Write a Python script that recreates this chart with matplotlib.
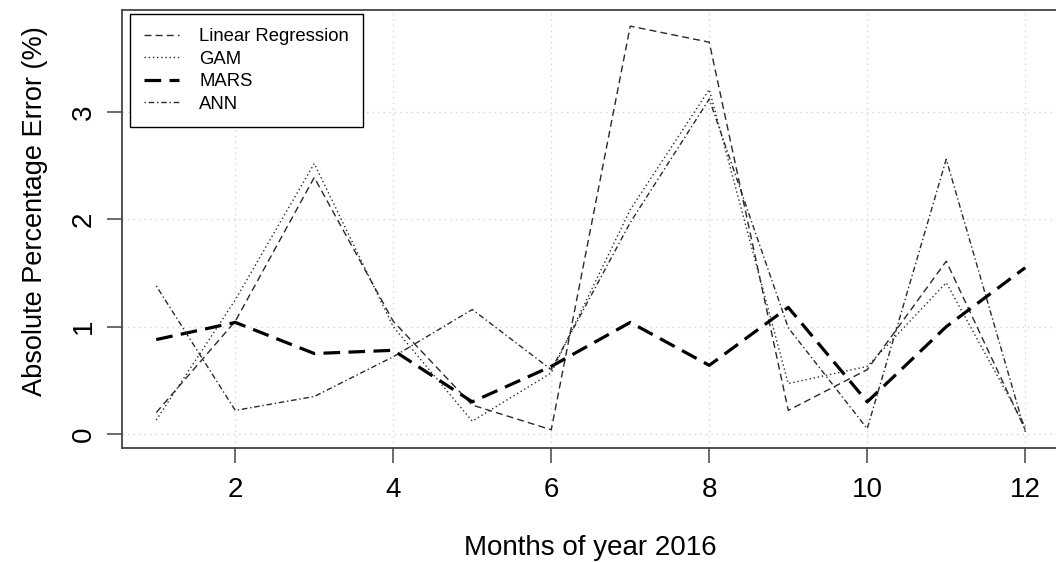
import matplotlib
matplotlib.use("Agg")
import matplotlib.pyplot as plt

# Monthly absolute percentage error (%) per model, 2016
months = [1, 2, 3, 4, 5, 6, 7, 8, 9, 10, 11, 12]
linear_reg = [0.20, 1.05, 2.39, 1.05, 0.27, 0.04, 3.80, 3.65, 0.22, 0.60, 1.61, 0.04]
gam = [0.13, 1.25, 2.52, 1.00, 0.12, 0.57, 2.09, 3.21, 0.47, 0.63, 1.41, 0.07]
mars = [0.88, 1.04, 0.75, 0.78, 0.30, 0.63, 1.04, 0.64, 1.18, 0.30, 1.00, 1.55]
ann = [1.38, 0.22, 0.35, 0.72, 1.16, 0.60, 1.97, 3.12, 0.99, 0.05, 2.56, 0.02]

plt.rcParams['font.family'] = ['Liberation Sans', 'DejaVu Sans']
plt.rcParams['lines.scale_dashes'] = False

fig = plt.figure(figsize=(10.56, 5.62), dpi=100)
# R style plot region, right edge runs past the image (cropped original)
ax = fig.add_axes([121.5 / 1056, 114 / 562, (1060 - 121.5) / 1056, 438 / 562])

ax.plot(months, linear_reg, color='#2a2a2a', lw=1.0, dashes=(5, 3), label='Linear Regression')
ax.plot(months, gam, color='#2a2a2a', lw=1.0, dashes=(1, 2), label='GAM')
ax.plot(months, mars, color='black', lw=2.3, dashes=(12, 6), label='MARS')
ax.plot(months, ann, color='#2a2a2a', lw=1.0, dashes=(1, 2, 4, 2), label='ANN')

ax.set_xlim(0.56, 12.44)
ax.set_ylim(-0.13, 3.95)
ax.set_xticks([2, 4, 6, 8, 10, 12])
ax.set_yticks([0, 1, 2, 3])
ax.grid(True, color='#d3d3d3', linestyle=(0, (1, 3)), lw=1)

for s in ax.spines.values():
    s.set_color('#444444')
    s.set_linewidth(1.3)

ax.tick_params(axis='both', length=10.8, width=1.1, color='#444444', labelsize=20)
ax.tick_params(axis='x', pad=10)
ax.tick_params(axis='y', pad=7)
for lab in ax.get_yticklabels():
    lab.set_rotation(90)
    lab.set_va('center')

ax.set_xlabel('Months of year 2016', fontsize=20)
ax.set_ylabel('Absolute Percentage Error (%)', fontsize=19.5)
ax.xaxis.set_label_coords(0.5, -0.199)
ax.yaxis.set_label_coords(-0.0785, 0.541)

leg = ax.legend(loc='upper left', bbox_to_anchor=(0.009, 0.991), borderaxespad=0,
                fontsize=13.3, handlelength=1.9, handletextpad=1.1, labelspacing=0.3,
                borderpad=0.76, fancybox=False, framealpha=1, edgecolor='black')
leg.get_frame().set_linewidth(1.0)

fig.savefig('out.png', dpi=100)
